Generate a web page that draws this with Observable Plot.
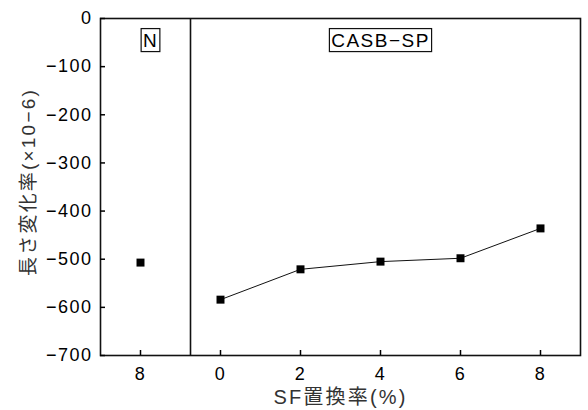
<!DOCTYPE html>
<html>
<head>
<meta charset="utf-8">
<script src="https://cdn.jsdelivr.net/npm/d3@7"></script>
<script src="https://cdn.jsdelivr.net/npm/@observablehq/plot@0.6"></script>
<style>
  body { margin: 0; background: #fff; }
  #chart svg { display: block; }
</style>
</head>
<body>
<div id="chart"></div>
<script>
// N mix (8 % SF), drawn in its own panel left of the divider
const nPositions = [-2];
const nValues = [-507];

// CASB-SP mixes: SF replacement ratio (%) and length change (×10^-6)
const casbRatios = [0, 2, 4, 6, 8];
const casbValues = [-584, -521, -505, -498, -436];

// Axis ticks and their labels
const xTicks = [-2, 0, 2, 4, 6, 8];
const xTickLabels = ["8", "0", "2", "4", "6", "8"];
const yTicks = [0, -100, -200, -300, -400, -500, -600, -700];

// Panel split and panel names
const groupBoundary = -0.75;
const groupNames = ["N", "CASB−SP"];
const groupCenters = [-1.75, 4];

const xTitle = "SF置換率(%)";
const yTitle = "長さ変化率(×10−6)";

const nData = nPositions.map((x, i) => ({x, v: nValues[i]}));
const casbData = casbRatios.map((x, i) => ({x, v: casbValues[i]}));
const groupData = groupNames.map((name, i) => ({name, x: groupCenters[i]}));
const xLabelOf = new Map(xTicks.map((t, i) => [t, xTickLabels[i]]));

const ink = "#111";

const plot = Plot.plot({
  width: 588,
  height: 410,
  marginLeft: 100,
  marginRight: 8,
  marginTop: 18,
  marginBottom: 55,
  style: {
    fontFamily: "'Liberation Sans', 'Noto Sans CJK JP', sans-serif",
    fontSize: "18px",
    letterSpacing: "1.5px",
    color: "#000",
    background: "#fff"
  },
  x: {domain: [-3, 9]},
  y: {domain: [-700, 0]},
  marks: [
    Plot.frame({stroke: ink, strokeWidth: 1.6}),
    Plot.ruleX([groupBoundary], {stroke: ink, strokeWidth: 1.6}),
    Plot.axisX({
      ticks: xTicks,
      tickSize: -5,
      tickPadding: 17,
      strokeWidth: 1.5,
      tickFormat: d => xLabelOf.get(d),
      label: null
    }),
    Plot.axisY({
      ticks: yTicks,
      tickSize: -5,
      tickPadding: 13,
      strokeWidth: 1.5,
      label: null
    }),
    Plot.line(casbData, {x: "x", y: "v", stroke: ink, strokeWidth: 1}),
    Plot.dot(casbData, {x: "x", y: "v", symbol: "square", r: 4.5, fill: "#000", stroke: "none"}),
    Plot.dot(nData, {x: "x", y: "v", symbol: "square", r: 4.5, fill: "#000", stroke: "none"}),
    Plot.text(groupData, {
      x: "x",
      text: "name",
      frameAnchor: "top",
      lineAnchor: "middle",
      dy: 22,
      fontSize: 19,
      fill: "#000"
    }),
    Plot.text([xTitle], {
      frameAnchor: "bottom",
      lineAnchor: "middle",
      textAnchor: "middle",
      dy: 42,
      fontSize: 20,
      fill: "#333"
    }),
    Plot.text([yTitle], {
      frameAnchor: "left",
      textAnchor: "middle",
      lineAnchor: "middle",
      dx: -72,
      dy: -5,
      rotate: -90,
      fontSize: 19,
      fill: "#333"
    })
  ]
});

document.getElementById("chart").append(plot);

// Wider tracking on the axis titles
d3.select(plot).selectAll("text")
  .filter(function () { return this.textContent === xTitle || this.textContent === yTitle; })
  .style("letter-spacing", "2.2px");

// Draw a thin box around each panel name
d3.select(plot).selectAll("text")
  .filter(function () { return groupNames.includes(this.textContent); })
  .each(function () {
    const b = this.getBBox();
    const padX = 2.5, padY = 1;
    d3.select(this.parentNode).insert("rect", () => this)
      .attr("x", b.x - padX + 0.75)
      .attr("y", b.y - padY)
      .attr("width", b.width + 2 * padX - 1.5)
      .attr("height", b.height + 2 * padY)
      .attr("transform", this.getAttribute("transform"))
      .attr("fill", "#fff")
      .attr("stroke", ink)
      .attr("stroke-width", 1.2);
  });
</script>
</body>
</html>
